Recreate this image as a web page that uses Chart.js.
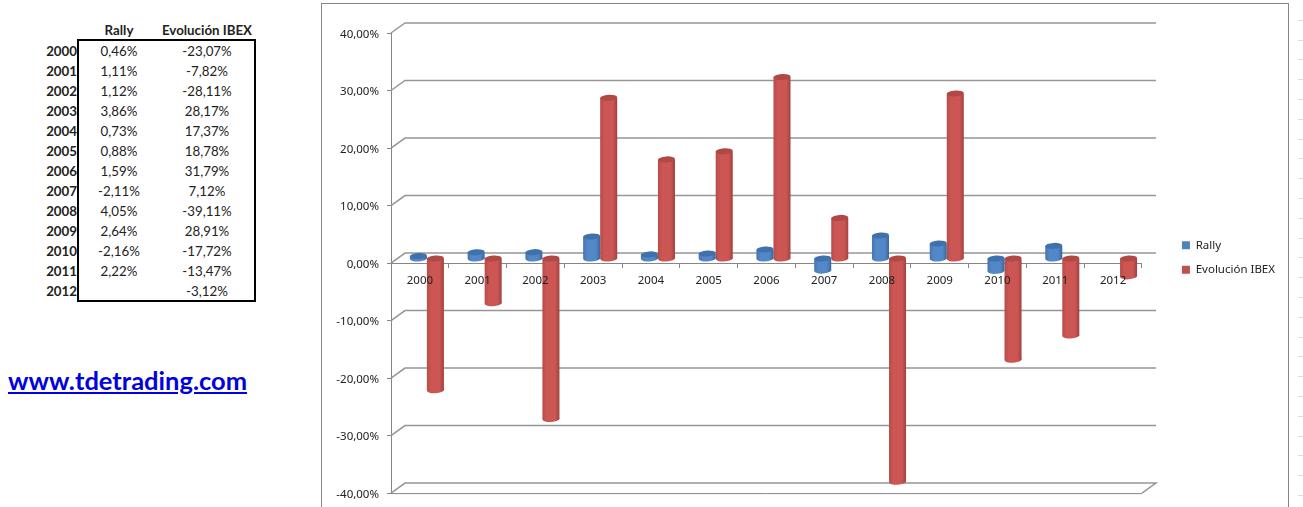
<!DOCTYPE html>
<html lang="es">
<head>
<meta charset="UTF-8">
<title>Rally / Evolución IBEX</title>
<script src="https://cdnjs.cloudflare.com/ajax/libs/Chart.js/4.4.1/chart.umd.min.js"></script>
<style>
    html, body { margin: 0; padding: 0; background: #fff; overflow: hidden; }
    body { width: 1303px; height: 507px; position: relative; font-family: Lato, sans-serif; color: #222; }
    #frame { position: absolute; left: 321px; top: 3px; width: 966px; height: 504px; border: 1px solid #868686; border-bottom: 0; }
    #myChart { display: block; }
    #rows { position: absolute; left: 1298px; top: 1px; width: 5px; height: 506px;
        background: repeating-linear-gradient(to bottom, transparent 0, transparent 18.8px, #dcdcdc 18.8px, #dcdcdc 19.8px); }
    .cell { position: absolute; font-size: 13.3px; line-height: 20px; text-align: center; white-space: nowrap; }
    .head { font-weight: bold; }
    .year { font-weight: bold; text-align: right; width: 40px; left: 37px; }
    #box { position: absolute; left: 77px; top: 39px; width: 175px; height: 259px; border: 2px solid #000; }
    #link { position: absolute; left: 8px; top: 365px; font-size: 25.5px; font-weight: bold; color: #0000e0; text-decoration: underline; }
</style>
</head>
<body>

<div id="box"></div>
<div id="table"></div>
<a id="link">www.tdetrading.com</a>
<div id="rows"></div>
<div id="frame"><canvas id="myChart" width="966" height="504"></canvas></div>

<script>
    var years = ['2000','2001','2002','2003','2004','2005','2006','2007','2008','2009','2010','2011','2012'];
    var rally = [0.46,1.11,1.12,3.86,0.73,0.88,1.59,-2.11,4.05,2.64,-2.16,2.22,null];
    var ibex = [-23.07,-7.82,-28.11,28.17,17.37,18.78,31.79,7.12,-39.11,28.91,-17.72,-13.47,-3.12];
    var yTicks = [-40,-30,-20,-10,0,10,20,30,40];

    function pct(v) {
        return v.toFixed(2).replace('.', ',') + '%';
    }

    // left table, same numbers as the chart
    var table = document.getElementById('table');
    function addCell(text, cls, x, w, y) {
        var d = document.createElement('div');
        d.className = 'cell ' + cls;
        d.textContent = text;
        if (x !== null) { d.style.left = x + 'px'; d.style.width = w + 'px'; }
        d.style.top = y + 'px';
        table.appendChild(d);
    }
    addCell('Rally', 'head', 79, 80, 20);
    addCell('Evolución IBEX', 'head', 157, 100, 20);
    years.forEach(function (y, i) {
        var top = 41 + i * 20;
        addCell(y, 'year', null, 0, top);
        if (rally[i] !== null) addCell(pct(rally[i]), '', 79, 80, top);
        addCell(pct(ibex[i]), '', 157, 100, top);
    });

    var depthX = 14, depthY = 10;   // back wall offset
    var barX = 7, barY = -4.5;      // bars stand half way into the floor

    var wall = {
        id: 'wall',
        afterLayout: function (chart) {
            // legend sits further right than the layout would put it
            var l = chart.legend;
            l.left += 27; l.right += 27;
            l.top -= 6; l.bottom -= 6;
        },
        beforeDatasetsDraw: function (chart) {
            var c = chart.ctx, x = chart.scales.x, y = chart.scales.y;
            c.save();
            c.strokeStyle = '#969696';
            c.lineWidth = 1.5;
            yTicks.forEach(function (v) {
                var p = y.getPixelForValue(v);
                c.beginPath();
                c.moveTo(x.left, p);
                c.lineTo(x.left + depthX, p - depthY);
                c.lineTo(x.right + depthX, p - depthY);
                if (v === -40) c.lineTo(x.right, p);
                c.stroke();
            });
            var b = y.getPixelForValue(-40);
            c.strokeStyle = '#868686';
            c.lineWidth = 1;
            c.beginPath();
            c.moveTo(x.left, b + 0.5);
            c.lineTo(x.right, b + 0.5);
            c.stroke();
            c.restore();
            c.save();
            c.translate(barX, barY);
        },
        afterDatasetsDraw: function (chart) {
            var c = chart.ctx;
            chart.data.datasets.forEach(function (ds, n) {
                chart.getDatasetMeta(n).data.forEach(function (bar, i) {
                    if (ds.data[i] === null) return;
                    var top = Math.min(bar.y, bar.base), bot = Math.max(bar.y, bar.base);
                    var rx = bar.width / 2, ry = 3;
                    c.fillStyle = bodyGradient(c, bar.x, rx, ds.shades);
                    c.beginPath();
                    c.ellipse(bar.x, bot, rx, ry, -0.06, 0, Math.PI * 2);
                    c.fill();
                    c.fillStyle = ds.shades[3];
                    c.beginPath();
                    c.ellipse(bar.x, top, rx, ry, -0.06, 0, Math.PI * 2);
                    c.fill();
                });
            });
            c.restore();
        }
    };

    function bodyGradient(c, x, rx, shades) {
        var g = c.createLinearGradient(x - rx, 0, x + rx, 0);
        g.addColorStop(0, shades[0]);
        g.addColorStop(0.25, shades[1]);
        g.addColorStop(0.75, shades[1]);
        g.addColorStop(1, shades[2]);
        return g;
    }

    function barFill(context) {
        var ds = context.dataset, chart = context.chart;
        if (!context.element || !chart.chartArea) return ds.shades[4];
        var x = chart.scales.x.getPixelForValue(context.dataIndex) + (context.datasetIndex === 0 ? -8.5 : 8.5);
        return bodyGradient(chart.ctx, x, 8.5, ds.shades);
    }

    var ctx = document.getElementById('myChart').getContext('2d');
    new Chart(ctx, {
        type: 'bar',
        data: {
            labels: years,
            datasets: [
                { label: 'Rally', data: rally, yAxisID: 'yBars', backgroundColor: barFill, shades: ['#4676b0', '#5287c8', '#3a6699', '#3f72ad', '#4f81bd'], clip: false },
                { label: 'Evolución IBEX', data: ibex, yAxisID: 'yBars', backgroundColor: barFill, shades: ['#b64c49', '#cc5653', '#a2423f', '#b04845', '#c0504d'], clip: false }
            ]
        },
        plugins: [wall],
        options: {
            responsive: false,
            animation: false,
            categoryPercentage: 0.59,
            barPercentage: 1,
            layout: { padding: { left: 0, top: 29, right: 30, bottom: 14 } },
            plugins: {
                tooltip: { enabled: false },
                legend: {
                    position: 'right',
                    labels: {
                        boxWidth: 8, boxHeight: 8, padding: 13,
                        color: '#222',
                        font: { family: 'Noto Sans', size: 11.5 },
                        generateLabels: function (chart) {
                            var items = Chart.defaults.plugins.legend.labels.generateLabels(chart);
                            items.forEach(function (it) {
                                it.fillStyle = chart.data.datasets[it.datasetIndex].shades[4];
                            });
                            return items;
                        }
                    }
                }
            },
            scales: {
                x: {
                    position: { y: 0 },
                    offset: true,
                    grid: { drawOnChartArea: false, drawTicks: true, tickLength: 4, color: '#868686' },
                    border: { color: '#868686', width: 1 },
                    ticks: { z: 1, color: '#222', padding: 7, maxRotation: 0, font: { family: 'Noto Sans', size: 11.5 } }
                },
                y: {
                    min: -40, max: 40,
                    afterFit: function (s) { s.width = 69; },
                    afterBuildTicks: function (s) {
                        s.ticks = yTicks.map(function (v) { return { value: v }; });
                    },
                    grid: { drawOnChartArea: false, drawTicks: true, tickLength: 4, color: '#868686' },
                    border: { color: '#868686', width: 1 },
                    ticks: {
                        color: '#222', padding: 8, labelOffset: 1.5,
                        font: { family: 'Noto Sans', size: 11.5 },
                        callback: function (v) { return pct(v); }
                    }
                },
                // bars sit slightly deeper than the front axis, so a touch less tall
                yBars: { display: false, min: -40.3, max: 40.3 }
            }
        }
    });
</script>
</body>
</html>
